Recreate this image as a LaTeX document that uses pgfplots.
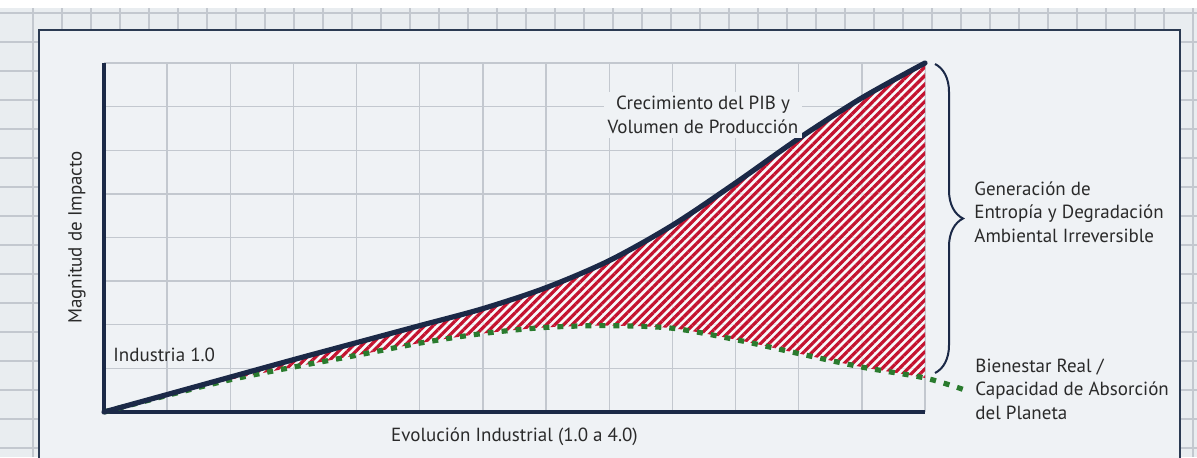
\documentclass[border=0pt]{standalone}
\usepackage{pgfplots}
\pgfplotsset{compat=1.18}
\usepgfplotslibrary{fillbetween}
\usetikzlibrary{patterns.meta,decorations.pathreplacing}
\usepackage{fontspec}
\setmainfont{PT Sans}

\definecolor{navy}{HTML}{1B2947}
\definecolor{frame}{HTML}{2B3A52}
\definecolor{hatch}{HTML}{C4122F}
\definecolor{wellgreen}{HTML}{2A7B2E}
\definecolor{bgout}{HTML}{E9EDF0}
\definecolor{panel}{HTML}{EFF2F5}
\definecolor{gridc}{HTML}{C3C8CF}
\definecolor{txt}{HTML}{2A2A2A}

% one extra layer under the axis for the graph paper
\pgfdeclarelayer{paper}
\pgfplotsset{
  layers/withpaper/.define layer set={paper,axis background,axis grid,axis ticks,axis lines,
    axis tick labels,pre main,main,axis descriptions,axis foreground}{
    grid style={/pgfplots/on layer=axis grid},
    tick style={/pgfplots/on layer=axis ticks},
    axis line style={/pgfplots/on layer=axis lines},
    label style={/pgfplots/on layer=axis descriptions},
    ticklabel style={/pgfplots/on layer=axis tick labels},
  },
}

\pgfplotstableread{
x     y
0     0
1     0.40
2     0.80
3     1.20
4     1.59
5     1.98
6     2.37
7     2.85
8     3.47
9     4.28
10    5.25
11    6.27
12    7.20
13    8.00
}\gdp

\pgfplotstableread{
x     y
0     0
1     0.38
2     0.74
3     1.03
4     1.30
5     1.58
6     1.80
7     1.94
8     1.98
9     1.92
10    1.66
11    1.34
12    1.03
13    0.78
13.6  0.52
}\bienestar

\begin{document}
\begin{tikzpicture}[font=\fontsize{9.5}{11.75}\selectfont, text=txt]

\begin{axis}[
  set layers=withpaper,
  at={(0,0)}, anchor=south west,
  scale only axis, width=410.5pt, height=174.5pt,
  xmin=0, xmax=13, ymin=0, ymax=8,
  xtick={0,...,13}, ytick={0,...,8},
  xticklabels={}, yticklabels={},
  tick style={draw=none},
  grid=major,
  major grid style={draw=gridc, line width=0.7pt},
  axis x line*=bottom, axis y line*=left,
  axis line style={draw=navy, line width=1.6pt, -},
  clip=false,
]
  \addplot[name path=gdp, draw=none, smooth] table {\gdp};
  \addplot[name path=bien, draw=none, smooth] table {\bienestar};
  \addplot[fill=white, fill opacity=0.6, draw=none]
    fill between[of=gdp and bien, soft clip={domain=0:13}];
  \addplot[pattern={Lines[angle=45,distance=3.05pt,line width=1.6pt]}, pattern color=hatch, draw=none]
    fill between[of=gdp and bien, soft clip={domain=0:13}];

  \addplot[wellgreen, line width=2.6pt, dash pattern=on 3pt off 4pt, smooth] table {\bienestar};
  \addplot[navy, line width=2.6pt, smooth, line cap=round] table {\gdp};
\end{axis}

% graph paper and panel, on the layer under the axis
\begin{pgfonlayer}{paper}
  \begin{scope}
    \clip (-52pt,-22.5pt) rectangle (546.5pt,206pt);
    \fill[bgout] (-52pt,-22.5pt) rectangle (546.5pt,206pt);
    \foreach \i in {0,...,41}
      \draw[gridc, line width=0.6pt] (-35.5pt+\i*14.5pt,-22.5pt) -- ++(0,228.5pt);
    \foreach \j in {0,...,16}
      \draw[gridc, line width=0.6pt] (-52pt,199.5pt-\j*14.5pt) -- ++(598.5pt,0);
    \fill[white] (-52pt,202pt) rectangle (546.5pt,206pt);
    \filldraw[fill=panel, draw=frame, line width=1.4pt] (-32.5pt,-40pt) rectangle (538pt,191pt);
  \end{scope}
\end{pgfonlayer}

% labels and annotations
\node[rotate=90] at (-13.5pt,87.25pt) {Magnitud de Impacto};
\node at (205.25pt,-12.5pt) {Evolución Industrial (1.0 a 4.0)};
\node[anchor=west, inner sep=0pt] at (4.5pt,28.5pt) {Industria 1.0};
\node[fill=panel, align=center, inner xsep=2pt, inner ysep=2pt] at (299.5pt,148.5pt)
  {Crecimiento del PIB y\\Volumen de Producción};
\draw[navy, line width=1pt, decorate, decoration={brace, amplitude=14pt}]
  (415.5pt,174pt) -- (415.5pt,19.5pt);
\node[anchor=west, align=left, inner sep=0pt] at (435pt,100pt)
  {Generación de\\Entropía y Degradación\\Ambiental Irreversible};
\node[anchor=west, align=left, inner sep=0pt] at (435.5pt,11.5pt)
  {Bienestar Real /\\Capacidad de Absorción\\del Planeta};

\pgfresetboundingbox
\useasboundingbox (-52pt,-22.5pt) rectangle (546.5pt,206pt);
\end{tikzpicture}
\end{document}
